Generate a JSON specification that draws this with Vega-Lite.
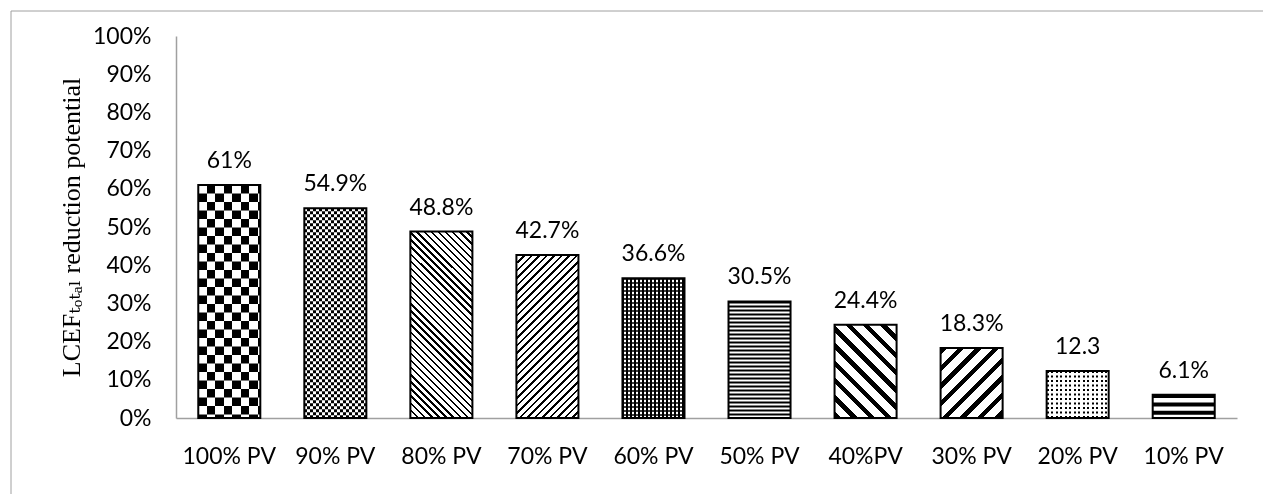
{
  "$schema": "https://vega.github.io/schema/vega-lite/v6.json",
  "width": 1262.5,
  "height": 493.5,
  "autosize": {"type": "none"},
  "padding": {"left": 10.5, "top": 10.5, "right": -10, "bottom": -10},
  "background": "#ffffff",
  "config": {"view": {"stroke": "#a0a0a0", "strokeWidth": 1}, "font": "Lato"},
  "data": {
    "values": [
      {"pv": "100% PV", "value": 61, "label": "61%"},
      {"pv": "90% PV", "value": 54.9, "label": "54.9%"},
      {"pv": "80% PV", "value": 48.8, "label": "48.8%"},
      {"pv": "70% PV", "value": 42.7, "label": "42.7%"},
      {"pv": "60% PV", "value": 36.6, "label": "36.6%"},
      {"pv": "50% PV", "value": 30.5, "label": "30.5%"},
      {"pv": "40%PV", "value": 24.4, "label": "24.4%"},
      {"pv": "30% PV", "value": 18.3, "label": "18.3%"},
      {"pv": "20% PV", "value": 12.3, "label": "12.3"},
      {"pv": "10% PV", "value": 6.1, "label": "6.1%"}
    ]
  },
  "encoding": {
    "x": {
      "field": "pv",
      "type": "nominal",
      "scale": {
        "domain": ["100% PV", "90% PV", "80% PV", "70% PV", "60% PV", "50% PV", "40%PV", "30% PV", "20% PV", "10% PV"],
        "range": [165.5, 1226.5],
        "paddingInner": 0.415,
        "paddingOuter": 0.21
      },
      "axis": {
        "orient": "bottom",
        "offset": -86,
        "title": null,
        "labelAngle": 0,
        "labelFont": "Lato",
        "labelFontSize": 23,
        "labelColor": "#000000",
        "labelPadding": 27,
        "ticks": false,
        "tickSize": 0,
        "domainColor": "#a0a0a0",
        "domainWidth": 1.5
      }
    },
    "y": {
      "field": "value",
      "type": "quantitative",
      "scale": {"domain": [0, 100], "range": [407.5, 25.5], "nice": false, "zero": true},
      "axis": {
        "offset": -165.5,
        "values": [0, 10, 20, 30, 40, 50, 60, 70, 80, 90, 100],
        "labelExpr": "datum.value + '%'",
        "grid": false,
        "ticks": false,
        "tickSize": 0,
        "labelPadding": 25,
        "labelFont": "Lato",
        "labelFontSize": 23,
        "labelColor": "#000000",
        "domainColor": "#a0a0a0",
        "domainWidth": 1.5,
        "title": "LCEFₜₒₜₐₗ reduction potential",
        "titleFont": "Liberation Serif, DejaVu Serif",
        "titleFontSize": 26,
        "titleFontWeight": "normal",
        "titleColor": "#000000",
        "titlePadding": 8
      }
    }
  },
  "layer": [
    {"mark": {"type": "bar", "fill": "#ffffff"}},

    {"transform": [{"filter": "datum.pv === '100% PV'"}],
     "mark": {"type": "rule", "color": "#000000", "strokeWidth": 62, "strokeDash": [8.5, 8.5]},
     "encoding": {"y2": {"datum": 0}}},
    {"transform": [{"filter": "datum.pv === '100% PV'"}],
     "mark": {"type": "bar", "blend": "difference", "fill": {"gradient": "linear", "x1": 0, "y1": 0, "x2": 1, "y2": 0, "stops": [
       {"offset": 0, "color": "#fff"}, {"offset": 0.1371, "color": "#fff"}, {"offset": 0.1371, "color": "#000"}, {"offset": 0.2742, "color": "#000"},
       {"offset": 0.2742, "color": "#fff"}, {"offset": 0.4113, "color": "#fff"}, {"offset": 0.4113, "color": "#000"}, {"offset": 0.5484, "color": "#000"},
       {"offset": 0.5484, "color": "#fff"}, {"offset": 0.6855, "color": "#fff"}, {"offset": 0.6855, "color": "#000"}, {"offset": 0.8226, "color": "#000"},
       {"offset": 0.8226, "color": "#fff"}, {"offset": 0.9597, "color": "#fff"}, {"offset": 0.9597, "color": "#000"}, {"offset": 1, "color": "#000"}]}}},

    {"transform": [{"filter": "datum.pv === '90% PV'"}],
     "mark": {"type": "rule", "color": "#000000", "strokeWidth": 62, "strokeDash": [3, 3]},
     "encoding": {"y2": {"datum": 0}}},
    {"transform": [{"filter": "datum.pv === '90% PV'"}],
     "mark": {"type": "bar", "blend": "difference", "fill": {"gradient": "linear", "x1": 0, "y1": 0, "x2": 1, "y2": 0, "stops": [
       {"offset": 0, "color": "#fff"}, {"offset": 0.0484, "color": "#fff"}, {"offset": 0.0484, "color": "#000"}, {"offset": 0.0968, "color": "#000"},
       {"offset": 0.0968, "color": "#fff"}, {"offset": 0.1452, "color": "#fff"}, {"offset": 0.1452, "color": "#000"}, {"offset": 0.1935, "color": "#000"},
       {"offset": 0.1935, "color": "#fff"}, {"offset": 0.2419, "color": "#fff"}, {"offset": 0.2419, "color": "#000"}, {"offset": 0.2903, "color": "#000"},
       {"offset": 0.2903, "color": "#fff"}, {"offset": 0.3387, "color": "#fff"}, {"offset": 0.3387, "color": "#000"}, {"offset": 0.3871, "color": "#000"},
       {"offset": 0.3871, "color": "#fff"}, {"offset": 0.4355, "color": "#fff"}, {"offset": 0.4355, "color": "#000"}, {"offset": 0.4839, "color": "#000"},
       {"offset": 0.4839, "color": "#fff"}, {"offset": 0.5323, "color": "#fff"}, {"offset": 0.5323, "color": "#000"}, {"offset": 0.5806, "color": "#000"},
       {"offset": 0.5806, "color": "#fff"}, {"offset": 0.629, "color": "#fff"}, {"offset": 0.629, "color": "#000"}, {"offset": 0.6774, "color": "#000"},
       {"offset": 0.6774, "color": "#fff"}, {"offset": 0.7258, "color": "#fff"}, {"offset": 0.7258, "color": "#000"}, {"offset": 0.7742, "color": "#000"},
       {"offset": 0.7742, "color": "#fff"}, {"offset": 0.8226, "color": "#fff"}, {"offset": 0.8226, "color": "#000"}, {"offset": 0.871, "color": "#000"},
       {"offset": 0.871, "color": "#fff"}, {"offset": 0.9194, "color": "#fff"}, {"offset": 0.9194, "color": "#000"}, {"offset": 0.9677, "color": "#000"},
       {"offset": 0.9677, "color": "#fff"}, {"offset": 1, "color": "#fff"}]}}},

    {"transform": [{"filter": "datum.pv === '80% PV'"}],
     "mark": {"type": "bar", "fill": {"gradient": "linear", "x1": 0, "y1": 1, "x2": 0.39904, "y2": -0.19976, "stops": [
       {"offset": 0, "color": "#000"}, {"offset": 0.0097, "color": "#000"}, {"offset": 0.0097, "color": "#fff"}, {"offset": 0.0286, "color": "#fff"},
       {"offset": 0.0286, "color": "#000"}, {"offset": 0.0383, "color": "#000"}, {"offset": 0.0383, "color": "#fff"}, {"offset": 0.0571, "color": "#fff"},
       {"offset": 0.0571, "color": "#000"}, {"offset": 0.0668, "color": "#000"}, {"offset": 0.0668, "color": "#fff"}, {"offset": 0.0857, "color": "#fff"},
       {"offset": 0.0857, "color": "#000"}, {"offset": 0.0954, "color": "#000"}, {"offset": 0.0954, "color": "#fff"}, {"offset": 0.1143, "color": "#fff"},
       {"offset": 0.1143, "color": "#000"}, {"offset": 0.124, "color": "#000"}, {"offset": 0.124, "color": "#fff"}, {"offset": 0.1429, "color": "#fff"},
       {"offset": 0.1429, "color": "#000"}, {"offset": 0.1526, "color": "#000"}, {"offset": 0.1526, "color": "#fff"}, {"offset": 0.1714, "color": "#fff"},
       {"offset": 0.1714, "color": "#000"}, {"offset": 0.1811, "color": "#000"}, {"offset": 0.1811, "color": "#fff"}, {"offset": 0.2, "color": "#fff"},
       {"offset": 0.2, "color": "#000"}, {"offset": 0.2097, "color": "#000"}, {"offset": 0.2097, "color": "#fff"}, {"offset": 0.2286, "color": "#fff"},
       {"offset": 0.2286, "color": "#000"}, {"offset": 0.2383, "color": "#000"}, {"offset": 0.2383, "color": "#fff"}, {"offset": 0.2571, "color": "#fff"},
       {"offset": 0.2571, "color": "#000"}, {"offset": 0.2668, "color": "#000"}, {"offset": 0.2668, "color": "#fff"}, {"offset": 0.2857, "color": "#fff"},
       {"offset": 0.2857, "color": "#000"}, {"offset": 0.2954, "color": "#000"}, {"offset": 0.2954, "color": "#fff"}, {"offset": 0.3143, "color": "#fff"},
       {"offset": 0.3143, "color": "#000"}, {"offset": 0.324, "color": "#000"}, {"offset": 0.324, "color": "#fff"}, {"offset": 0.3429, "color": "#fff"},
       {"offset": 0.3429, "color": "#000"}, {"offset": 0.3526, "color": "#000"}, {"offset": 0.3526, "color": "#fff"}, {"offset": 0.3714, "color": "#fff"},
       {"offset": 0.3714, "color": "#000"}, {"offset": 0.3811, "color": "#000"}, {"offset": 0.3811, "color": "#fff"}, {"offset": 0.4, "color": "#fff"},
       {"offset": 0.4, "color": "#000"}, {"offset": 0.4097, "color": "#000"}, {"offset": 0.4097, "color": "#fff"}, {"offset": 0.4286, "color": "#fff"},
       {"offset": 0.4286, "color": "#000"}, {"offset": 0.4383, "color": "#000"}, {"offset": 0.4383, "color": "#fff"}, {"offset": 0.4571, "color": "#fff"},
       {"offset": 0.4571, "color": "#000"}, {"offset": 0.4668, "color": "#000"}, {"offset": 0.4668, "color": "#fff"}, {"offset": 0.4857, "color": "#fff"},
       {"offset": 0.4857, "color": "#000"}, {"offset": 0.4954, "color": "#000"}, {"offset": 0.4954, "color": "#fff"}, {"offset": 0.5143, "color": "#fff"},
       {"offset": 0.5143, "color": "#000"}, {"offset": 0.524, "color": "#000"}, {"offset": 0.524, "color": "#fff"}, {"offset": 0.5429, "color": "#fff"},
       {"offset": 0.5429, "color": "#000"}, {"offset": 0.5526, "color": "#000"}, {"offset": 0.5526, "color": "#fff"}, {"offset": 0.5714, "color": "#fff"},
       {"offset": 0.5714, "color": "#000"}, {"offset": 0.5811, "color": "#000"}, {"offset": 0.5811, "color": "#fff"}, {"offset": 0.6, "color": "#fff"},
       {"offset": 0.6, "color": "#000"}, {"offset": 0.6097, "color": "#000"}, {"offset": 0.6097, "color": "#fff"}, {"offset": 0.6286, "color": "#fff"},
       {"offset": 0.6286, "color": "#000"}, {"offset": 0.6383, "color": "#000"}, {"offset": 0.6383, "color": "#fff"}, {"offset": 0.6571, "color": "#fff"},
       {"offset": 0.6571, "color": "#000"}, {"offset": 0.6668, "color": "#000"}, {"offset": 0.6668, "color": "#fff"}, {"offset": 0.6857, "color": "#fff"},
       {"offset": 0.6857, "color": "#000"}, {"offset": 0.6954, "color": "#000"}, {"offset": 0.6954, "color": "#fff"}, {"offset": 0.7143, "color": "#fff"},
       {"offset": 0.7143, "color": "#000"}, {"offset": 0.724, "color": "#000"}, {"offset": 0.724, "color": "#fff"}, {"offset": 0.7429, "color": "#fff"},
       {"offset": 0.7429, "color": "#000"}, {"offset": 0.7526, "color": "#000"}, {"offset": 0.7526, "color": "#fff"}, {"offset": 0.7714, "color": "#fff"},
       {"offset": 0.7714, "color": "#000"}, {"offset": 0.7811, "color": "#000"}, {"offset": 0.7811, "color": "#fff"}, {"offset": 0.8, "color": "#fff"},
       {"offset": 0.8, "color": "#000"}, {"offset": 0.8097, "color": "#000"}, {"offset": 0.8097, "color": "#fff"}, {"offset": 0.8286, "color": "#fff"},
       {"offset": 0.8286, "color": "#000"}, {"offset": 0.8383, "color": "#000"}, {"offset": 0.8383, "color": "#fff"}, {"offset": 0.8571, "color": "#fff"},
       {"offset": 0.8571, "color": "#000"}, {"offset": 0.8668, "color": "#000"}, {"offset": 0.8668, "color": "#fff"}, {"offset": 0.8857, "color": "#fff"},
       {"offset": 0.8857, "color": "#000"}, {"offset": 0.8954, "color": "#000"}, {"offset": 0.8954, "color": "#fff"}, {"offset": 0.9143, "color": "#fff"},
       {"offset": 0.9143, "color": "#000"}, {"offset": 0.924, "color": "#000"}, {"offset": 0.924, "color": "#fff"}, {"offset": 0.9429, "color": "#fff"},
       {"offset": 0.9429, "color": "#000"}, {"offset": 0.9526, "color": "#000"}, {"offset": 0.9526, "color": "#fff"}, {"offset": 0.9714, "color": "#fff"},
       {"offset": 0.9714, "color": "#000"}, {"offset": 0.9811, "color": "#000"}, {"offset": 0.9811, "color": "#fff"}, {"offset": 1, "color": "#fff"}]}}},

    {"transform": [{"filter": "datum.pv === '70% PV'"}],
     "mark": {"type": "bar", "fill": {"gradient": "linear", "x1": 0, "y1": 0, "x2": 0.45836, "y2": 1.20588, "stops": [
       {"offset": 0, "color": "#000"}, {"offset": 0.0098, "color": "#000"}, {"offset": 0.0098, "color": "#fff"}, {"offset": 0.0333, "color": "#fff"},
       {"offset": 0.0333, "color": "#000"}, {"offset": 0.0431, "color": "#000"}, {"offset": 0.0431, "color": "#fff"}, {"offset": 0.0667, "color": "#fff"},
       {"offset": 0.0667, "color": "#000"}, {"offset": 0.0765, "color": "#000"}, {"offset": 0.0765, "color": "#fff"}, {"offset": 0.1, "color": "#fff"},
       {"offset": 0.1, "color": "#000"}, {"offset": 0.1098, "color": "#000"}, {"offset": 0.1098, "color": "#fff"}, {"offset": 0.1333, "color": "#fff"},
       {"offset": 0.1333, "color": "#000"}, {"offset": 0.1431, "color": "#000"}, {"offset": 0.1431, "color": "#fff"}, {"offset": 0.1667, "color": "#fff"},
       {"offset": 0.1667, "color": "#000"}, {"offset": 0.1765, "color": "#000"}, {"offset": 0.1765, "color": "#fff"}, {"offset": 0.2, "color": "#fff"},
       {"offset": 0.2, "color": "#000"}, {"offset": 0.2098, "color": "#000"}, {"offset": 0.2098, "color": "#fff"}, {"offset": 0.2333, "color": "#fff"},
       {"offset": 0.2333, "color": "#000"}, {"offset": 0.2431, "color": "#000"}, {"offset": 0.2431, "color": "#fff"}, {"offset": 0.2667, "color": "#fff"},
       {"offset": 0.2667, "color": "#000"}, {"offset": 0.2765, "color": "#000"}, {"offset": 0.2765, "color": "#fff"}, {"offset": 0.3, "color": "#fff"},
       {"offset": 0.3, "color": "#000"}, {"offset": 0.3098, "color": "#000"}, {"offset": 0.3098, "color": "#fff"}, {"offset": 0.3333, "color": "#fff"},
       {"offset": 0.3333, "color": "#000"}, {"offset": 0.3431, "color": "#000"}, {"offset": 0.3431, "color": "#fff"}, {"offset": 0.3667, "color": "#fff"},
       {"offset": 0.3667, "color": "#000"}, {"offset": 0.3765, "color": "#000"}, {"offset": 0.3765, "color": "#fff"}, {"offset": 0.4, "color": "#fff"},
       {"offset": 0.4, "color": "#000"}, {"offset": 0.4098, "color": "#000"}, {"offset": 0.4098, "color": "#fff"}, {"offset": 0.4333, "color": "#fff"},
       {"offset": 0.4333, "color": "#000"}, {"offset": 0.4431, "color": "#000"}, {"offset": 0.4431, "color": "#fff"}, {"offset": 0.4667, "color": "#fff"},
       {"offset": 0.4667, "color": "#000"}, {"offset": 0.4765, "color": "#000"}, {"offset": 0.4765, "color": "#fff"}, {"offset": 0.5, "color": "#fff"},
       {"offset": 0.5, "color": "#000"}, {"offset": 0.5098, "color": "#000"}, {"offset": 0.5098, "color": "#fff"}, {"offset": 0.5333, "color": "#fff"},
       {"offset": 0.5333, "color": "#000"}, {"offset": 0.5431, "color": "#000"}, {"offset": 0.5431, "color": "#fff"}, {"offset": 0.5667, "color": "#fff"},
       {"offset": 0.5667, "color": "#000"}, {"offset": 0.5765, "color": "#000"}, {"offset": 0.5765, "color": "#fff"}, {"offset": 0.6, "color": "#fff"},
       {"offset": 0.6, "color": "#000"}, {"offset": 0.6098, "color": "#000"}, {"offset": 0.6098, "color": "#fff"}, {"offset": 0.6333, "color": "#fff"},
       {"offset": 0.6333, "color": "#000"}, {"offset": 0.6431, "color": "#000"}, {"offset": 0.6431, "color": "#fff"}, {"offset": 0.6667, "color": "#fff"},
       {"offset": 0.6667, "color": "#000"}, {"offset": 0.6765, "color": "#000"}, {"offset": 0.6765, "color": "#fff"}, {"offset": 0.7, "color": "#fff"},
       {"offset": 0.7, "color": "#000"}, {"offset": 0.7098, "color": "#000"}, {"offset": 0.7098, "color": "#fff"}, {"offset": 0.7333, "color": "#fff"},
       {"offset": 0.7333, "color": "#000"}, {"offset": 0.7431, "color": "#000"}, {"offset": 0.7431, "color": "#fff"}, {"offset": 0.7667, "color": "#fff"},
       {"offset": 0.7667, "color": "#000"}, {"offset": 0.7765, "color": "#000"}, {"offset": 0.7765, "color": "#fff"}, {"offset": 0.8, "color": "#fff"},
       {"offset": 0.8, "color": "#000"}, {"offset": 0.8098, "color": "#000"}, {"offset": 0.8098, "color": "#fff"}, {"offset": 0.8333, "color": "#fff"},
       {"offset": 0.8333, "color": "#000"}, {"offset": 0.8431, "color": "#000"}, {"offset": 0.8431, "color": "#fff"}, {"offset": 0.8667, "color": "#fff"},
       {"offset": 0.8667, "color": "#000"}, {"offset": 0.8765, "color": "#000"}, {"offset": 0.8765, "color": "#fff"}, {"offset": 0.9, "color": "#fff"},
       {"offset": 0.9, "color": "#000"}, {"offset": 0.9098, "color": "#000"}, {"offset": 0.9098, "color": "#fff"}, {"offset": 0.9333, "color": "#fff"},
       {"offset": 0.9333, "color": "#000"}, {"offset": 0.9431, "color": "#000"}, {"offset": 0.9431, "color": "#fff"}, {"offset": 0.9667, "color": "#fff"},
       {"offset": 0.9667, "color": "#000"}, {"offset": 0.9765, "color": "#000"}, {"offset": 0.9765, "color": "#fff"}, {"offset": 1, "color": "#fff"}]}}},

    {"transform": [{"filter": "datum.pv === '60% PV'"}],
     "mark": {"type": "rule", "color": "#000000", "strokeWidth": 62, "strokeDash": [1.5, 2.5]},
     "encoding": {"y2": {"datum": 0}}},
    {"transform": [{"filter": "datum.pv === '60% PV'"}],
     "mark": {"type": "bar", "fill": {"gradient": "linear", "x1": 0, "y1": 0, "x2": 1, "y2": 0, "stops": [
       {"offset": 0, "color": "#000"}, {"offset": 0.0242, "color": "#000"}, {"offset": 0.0242, "color": "rgba(0,0,0,0)"}, {"offset": 0.0645, "color": "rgba(0,0,0,0)"},
       {"offset": 0.0645, "color": "#000"}, {"offset": 0.0887, "color": "#000"}, {"offset": 0.0887, "color": "rgba(0,0,0,0)"}, {"offset": 0.129, "color": "rgba(0,0,0,0)"},
       {"offset": 0.129, "color": "#000"}, {"offset": 0.1532, "color": "#000"}, {"offset": 0.1532, "color": "rgba(0,0,0,0)"}, {"offset": 0.1935, "color": "rgba(0,0,0,0)"},
       {"offset": 0.1935, "color": "#000"}, {"offset": 0.2177, "color": "#000"}, {"offset": 0.2177, "color": "rgba(0,0,0,0)"}, {"offset": 0.2581, "color": "rgba(0,0,0,0)"},
       {"offset": 0.2581, "color": "#000"}, {"offset": 0.2823, "color": "#000"}, {"offset": 0.2823, "color": "rgba(0,0,0,0)"}, {"offset": 0.3226, "color": "rgba(0,0,0,0)"},
       {"offset": 0.3226, "color": "#000"}, {"offset": 0.3468, "color": "#000"}, {"offset": 0.3468, "color": "rgba(0,0,0,0)"}, {"offset": 0.3871, "color": "rgba(0,0,0,0)"},
       {"offset": 0.3871, "color": "#000"}, {"offset": 0.4113, "color": "#000"}, {"offset": 0.4113, "color": "rgba(0,0,0,0)"}, {"offset": 0.4516, "color": "rgba(0,0,0,0)"},
       {"offset": 0.4516, "color": "#000"}, {"offset": 0.4758, "color": "#000"}, {"offset": 0.4758, "color": "rgba(0,0,0,0)"}, {"offset": 0.5161, "color": "rgba(0,0,0,0)"},
       {"offset": 0.5161, "color": "#000"}, {"offset": 0.5403, "color": "#000"}, {"offset": 0.5403, "color": "rgba(0,0,0,0)"}, {"offset": 0.5806, "color": "rgba(0,0,0,0)"},
       {"offset": 0.5806, "color": "#000"}, {"offset": 0.6048, "color": "#000"}, {"offset": 0.6048, "color": "rgba(0,0,0,0)"}, {"offset": 0.6452, "color": "rgba(0,0,0,0)"},
       {"offset": 0.6452, "color": "#000"}, {"offset": 0.6694, "color": "#000"}, {"offset": 0.6694, "color": "rgba(0,0,0,0)"}, {"offset": 0.7097, "color": "rgba(0,0,0,0)"},
       {"offset": 0.7097, "color": "#000"}, {"offset": 0.7339, "color": "#000"}, {"offset": 0.7339, "color": "rgba(0,0,0,0)"}, {"offset": 0.7742, "color": "rgba(0,0,0,0)"},
       {"offset": 0.7742, "color": "#000"}, {"offset": 0.7984, "color": "#000"}, {"offset": 0.7984, "color": "rgba(0,0,0,0)"}, {"offset": 0.8387, "color": "rgba(0,0,0,0)"},
       {"offset": 0.8387, "color": "#000"}, {"offset": 0.8629, "color": "#000"}, {"offset": 0.8629, "color": "rgba(0,0,0,0)"}, {"offset": 0.9032, "color": "rgba(0,0,0,0)"},
       {"offset": 0.9032, "color": "#000"}, {"offset": 0.9274, "color": "#000"}, {"offset": 0.9274, "color": "rgba(0,0,0,0)"}, {"offset": 0.9677, "color": "rgba(0,0,0,0)"},
       {"offset": 0.9677, "color": "#000"}, {"offset": 0.9919, "color": "#000"}, {"offset": 0.9919, "color": "rgba(0,0,0,0)"}, {"offset": 1, "color": "rgba(0,0,0,0)"}]}}},

    {"transform": [{"filter": "datum.pv === '50% PV'"}],
     "mark": {"type": "rule", "color": "#000000", "strokeWidth": 62, "strokeDash": [2, 2]},
     "encoding": {"y2": {"datum": 0}}},

    {"transform": [{"filter": "datum.pv === '40%PV'"}],
     "mark": {"type": "bar", "fill": {"gradient": "linear", "x1": 0, "y1": 1, "x2": 0.76787, "y2": -0.15438, "stops": [
       {"offset": 0, "color": "#000"}, {"offset": 0.0419, "color": "#000"}, {"offset": 0.0419, "color": "#fff"}, {"offset": 0.1111, "color": "#fff"},
       {"offset": 0.1111, "color": "#000"}, {"offset": 0.153, "color": "#000"}, {"offset": 0.153, "color": "#fff"}, {"offset": 0.2222, "color": "#fff"},
       {"offset": 0.2222, "color": "#000"}, {"offset": 0.2641, "color": "#000"}, {"offset": 0.2641, "color": "#fff"}, {"offset": 0.3333, "color": "#fff"},
       {"offset": 0.3333, "color": "#000"}, {"offset": 0.3752, "color": "#000"}, {"offset": 0.3752, "color": "#fff"}, {"offset": 0.4444, "color": "#fff"},
       {"offset": 0.4444, "color": "#000"}, {"offset": 0.4863, "color": "#000"}, {"offset": 0.4863, "color": "#fff"}, {"offset": 0.5556, "color": "#fff"},
       {"offset": 0.5556, "color": "#000"}, {"offset": 0.5975, "color": "#000"}, {"offset": 0.5975, "color": "#fff"}, {"offset": 0.6667, "color": "#fff"},
       {"offset": 0.6667, "color": "#000"}, {"offset": 0.7086, "color": "#000"}, {"offset": 0.7086, "color": "#fff"}, {"offset": 0.7778, "color": "#fff"},
       {"offset": 0.7778, "color": "#000"}, {"offset": 0.8197, "color": "#000"}, {"offset": 0.8197, "color": "#fff"}, {"offset": 0.8889, "color": "#fff"},
       {"offset": 0.8889, "color": "#000"}, {"offset": 0.9308, "color": "#000"}, {"offset": 0.9308, "color": "#fff"}, {"offset": 1, "color": "#fff"}]}}},

    {"transform": [{"filter": "datum.pv === '30% PV'"}],
     "mark": {"type": "bar", "fill": {"gradient": "linear", "x1": 0, "y1": 0, "x2": 0.93671, "y2": 1.05614, "stops": [
       {"offset": 0, "color": "#000"}, {"offset": 0.0493, "color": "#000"}, {"offset": 0.0493, "color": "#fff"}, {"offset": 0.1333, "color": "#fff"},
       {"offset": 0.1333, "color": "#000"}, {"offset": 0.1826, "color": "#000"}, {"offset": 0.1826, "color": "#fff"}, {"offset": 0.2667, "color": "#fff"},
       {"offset": 0.2667, "color": "#000"}, {"offset": 0.316, "color": "#000"}, {"offset": 0.316, "color": "#fff"}, {"offset": 0.4, "color": "#fff"},
       {"offset": 0.4, "color": "#000"}, {"offset": 0.4493, "color": "#000"}, {"offset": 0.4493, "color": "#fff"}, {"offset": 0.5333, "color": "#fff"},
       {"offset": 0.5333, "color": "#000"}, {"offset": 0.5826, "color": "#000"}, {"offset": 0.5826, "color": "#fff"}, {"offset": 0.6667, "color": "#fff"},
       {"offset": 0.6667, "color": "#000"}, {"offset": 0.716, "color": "#000"}, {"offset": 0.716, "color": "#fff"}, {"offset": 0.8, "color": "#fff"},
       {"offset": 0.8, "color": "#000"}, {"offset": 0.8493, "color": "#000"}, {"offset": 0.8493, "color": "#fff"}, {"offset": 0.9333, "color": "#fff"},
       {"offset": 0.9333, "color": "#000"}, {"offset": 0.9826, "color": "#000"}, {"offset": 0.9826, "color": "#fff"}, {"offset": 1, "color": "#fff"}]}}},

    {"transform": [{"filter": "datum.pv === '20% PV'"}],
     "mark": {"type": "rule", "color": "#000000", "strokeWidth": 62, "strokeDash": [2, 2.5]},
     "encoding": {"y2": {"datum": 0}}},
    {"transform": [{"filter": "datum.pv === '20% PV'"}],
     "mark": {"type": "bar", "fill": {"gradient": "linear", "x1": 0, "y1": 0, "x2": 1, "y2": 0, "stops": [
       {"offset": 0, "color": "rgba(255,255,255,0)"}, {"offset": 0.0323, "color": "rgba(255,255,255,0)"}, {"offset": 0.0323, "color": "#fff"}, {"offset": 0.0726, "color": "#fff"},
       {"offset": 0.0726, "color": "rgba(255,255,255,0)"}, {"offset": 0.1048, "color": "rgba(255,255,255,0)"}, {"offset": 0.1048, "color": "#fff"}, {"offset": 0.1452, "color": "#fff"},
       {"offset": 0.1452, "color": "rgba(255,255,255,0)"}, {"offset": 0.1774, "color": "rgba(255,255,255,0)"}, {"offset": 0.1774, "color": "#fff"}, {"offset": 0.2177, "color": "#fff"},
       {"offset": 0.2177, "color": "rgba(255,255,255,0)"}, {"offset": 0.25, "color": "rgba(255,255,255,0)"}, {"offset": 0.25, "color": "#fff"}, {"offset": 0.2903, "color": "#fff"},
       {"offset": 0.2903, "color": "rgba(255,255,255,0)"}, {"offset": 0.3226, "color": "rgba(255,255,255,0)"}, {"offset": 0.3226, "color": "#fff"}, {"offset": 0.3629, "color": "#fff"},
       {"offset": 0.3629, "color": "rgba(255,255,255,0)"}, {"offset": 0.3952, "color": "rgba(255,255,255,0)"}, {"offset": 0.3952, "color": "#fff"}, {"offset": 0.4355, "color": "#fff"},
       {"offset": 0.4355, "color": "rgba(255,255,255,0)"}, {"offset": 0.4677, "color": "rgba(255,255,255,0)"}, {"offset": 0.4677, "color": "#fff"}, {"offset": 0.5081, "color": "#fff"},
       {"offset": 0.5081, "color": "rgba(255,255,255,0)"}, {"offset": 0.5403, "color": "rgba(255,255,255,0)"}, {"offset": 0.5403, "color": "#fff"}, {"offset": 0.5806, "color": "#fff"},
       {"offset": 0.5806, "color": "rgba(255,255,255,0)"}, {"offset": 0.6129, "color": "rgba(255,255,255,0)"}, {"offset": 0.6129, "color": "#fff"}, {"offset": 0.6532, "color": "#fff"},
       {"offset": 0.6532, "color": "rgba(255,255,255,0)"}, {"offset": 0.6855, "color": "rgba(255,255,255,0)"}, {"offset": 0.6855, "color": "#fff"}, {"offset": 0.7258, "color": "#fff"},
       {"offset": 0.7258, "color": "rgba(255,255,255,0)"}, {"offset": 0.7581, "color": "rgba(255,255,255,0)"}, {"offset": 0.7581, "color": "#fff"}, {"offset": 0.7984, "color": "#fff"},
       {"offset": 0.7984, "color": "rgba(255,255,255,0)"}, {"offset": 0.8306, "color": "rgba(255,255,255,0)"}, {"offset": 0.8306, "color": "#fff"}, {"offset": 0.871, "color": "#fff"},
       {"offset": 0.871, "color": "rgba(255,255,255,0)"}, {"offset": 0.9032, "color": "rgba(255,255,255,0)"}, {"offset": 0.9032, "color": "#fff"}, {"offset": 0.9435, "color": "#fff"},
       {"offset": 0.9435, "color": "rgba(255,255,255,0)"}, {"offset": 0.9758, "color": "rgba(255,255,255,0)"}, {"offset": 0.9758, "color": "#fff"}, {"offset": 1, "color": "#fff"}]}}},

    {"transform": [{"filter": "datum.pv === '10% PV'"}],
     "mark": {"type": "rule", "color": "#000000", "strokeWidth": 62, "strokeDash": [4, 4.3], "strokeDashOffset": 0.6},
     "encoding": {"y2": {"datum": 0}}},

    {"mark": {"type": "bar", "fillOpacity": 0, "stroke": "#000000", "strokeWidth": 2}},

    {"mark": {"type": "text", "baseline": "alphabetic", "dy": -17, "font": "Lato", "fontSize": 23, "color": "#000000"},
     "encoding": {"text": {"field": "label"}}}
  ]
}
